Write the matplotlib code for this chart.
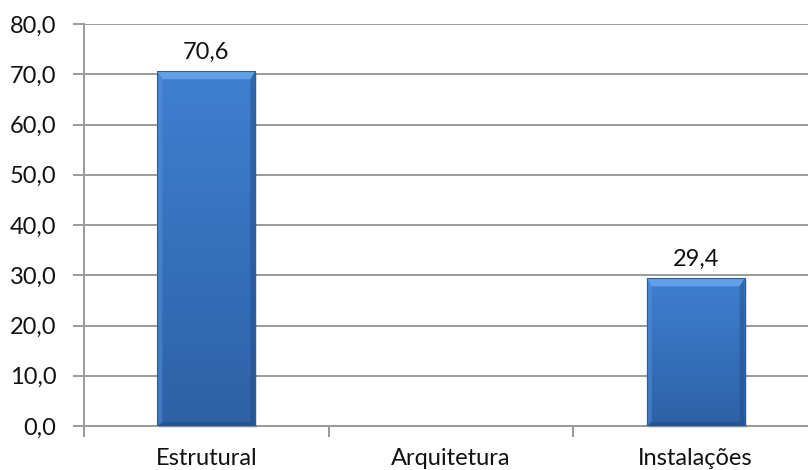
import matplotlib
matplotlib.use("Agg")
import matplotlib.pyplot as plt
import numpy as np
from matplotlib.patches import Polygon
from matplotlib.ticker import FixedLocator, NullFormatter
from matplotlib.colors import LinearSegmentedColormap

categories = ["Estrutural", "Arquitetura", "Instalações"]
values = [70.6, 0.0, 29.4]
value_labels = ["70,6", None, "29,4"]
yticks = [0, 10, 20, 30, 40, 50, 60, 70, 80]
ytick_labels = ["0,0", "10,0", "20,0", "30,0", "40,0", "50,0", "60,0", "70,0", "80,0"]

plt.rcParams['font.family'] = ['Lato', 'DejaVu Sans']

W, H = 808, 470
fig = plt.figure(figsize=(W / 100, H / 100), dpi=100)
left, right, bottom, top = 84, 818, 426, 24
ax = fig.add_axes([left / W, 1 - bottom / H, (right - left) / W, (bottom - top) / H])

ax.set_xlim(-0.5, 2.5)
ax.set_ylim(0, 80)

fs = 17
grid_c = "#9a9a9a"
ax.set_yticks(yticks)
ax.set_yticklabels(ytick_labels, fontsize=fs, color="#111111")
ax.yaxis.grid(True, color=grid_c, lw=1.4)
ax.set_axisbelow(True)
ax.tick_params(axis="y", length=8, width=1.4, color=grid_c, pad=12)

ax.xaxis.set_major_locator(FixedLocator([0, 1, 2]))
ax.set_xticklabels(categories, fontsize=fs, color="#111111")
ax.xaxis.set_minor_locator(FixedLocator([-0.5, 0.5, 1.5, 2.5]))
ax.xaxis.set_minor_formatter(NullFormatter())
ax.tick_params(axis="x", which="major", length=0, pad=15.5)
ax.tick_params(axis="x", which="minor", length=8, width=1.4, color=grid_c, direction="out")

for s in ["top", "right"]:
    ax.spines[s].set_visible(False)
for s in ["left", "bottom"]:
    ax.spines[s].set_color(grid_c)
    ax.spines[s].set_linewidth(1.4)

bw = 0.4
x = np.arange(len(categories))
bars = ax.bar(x, values, width=bw, color="#3a73c2", edgecolor="none", lw=0, zorder=3)

pxx = (3.0 / (right - left))   # data units per pixel, x
pxy = (80.0 / (bottom - top))  # data units per pixel, y
cmap = LinearSegmentedColormap.from_list("b", ["#2e61a6", "#3670bb", "#3f80d1"])
for b, v in zip(bars, values):
    if v <= 0:
        continue
    x0, w = b.get_x(), b.get_width()
    # shadow
    ax.add_patch(plt.Rectangle((x0 + 2 * pxx, -2 * pxy), w, v, fc="#000000", alpha=0.12,
                               ec="none", zorder=2.9, clip_on=False))
    grad = np.linspace(0, 1, 256).reshape(-1, 1)
    im = ax.imshow(grad, extent=[x0, x0 + w, 0, v], origin="lower", aspect="auto", cmap=cmap,
                   zorder=3.1, interpolation="bilinear")
    im.set_clip_path(b)
    bx = 5 * pxx
    bt = 8 * pxy
    bb = 4 * pxy
    # top bevel (light)
    ax.add_patch(Polygon([[x0, v], [x0 + w, v], [x0 + w - bx, v - bt], [x0 + bx, v - bt]],
                         closed=True, fc="#62a0ea", ec="none", zorder=3.2))
    # left bevel
    ax.add_patch(Polygon([[x0, 0], [x0, v], [x0 + bx, v - bt], [x0 + bx, bb]],
                         closed=True, fc="#5a94de", ec="none", zorder=3.2, alpha=0.45))
    # right bevel (dark)
    ax.add_patch(Polygon([[x0 + w, 0], [x0 + w, v], [x0 + w - bx, v - bt], [x0 + w - bx, bb]],
                         closed=True, fc="#1f4a85", ec="none", zorder=3.2, alpha=0.45))
    # bottom bevel
    ax.add_patch(Polygon([[x0, 0], [x0 + w, 0], [x0 + w - bx, bb], [x0 + bx, bb]],
                         closed=True, fc="#244f8c", ec="none", zorder=3.2, alpha=0.7))
    ax.add_patch(plt.Rectangle((x0, 0), w, v, fill=False, ec="#2d5f9e", lw=0.8, zorder=3.3))

for xi, v, lab in zip(x, values, value_labels):
    if lab:
        ax.annotate(lab, (xi, v), xytext=(0, 6), textcoords="offset points",
                    ha="center", va="bottom", fontsize=fs, color="#111111", zorder=4)

fig.savefig("out.png", dpi=100)
